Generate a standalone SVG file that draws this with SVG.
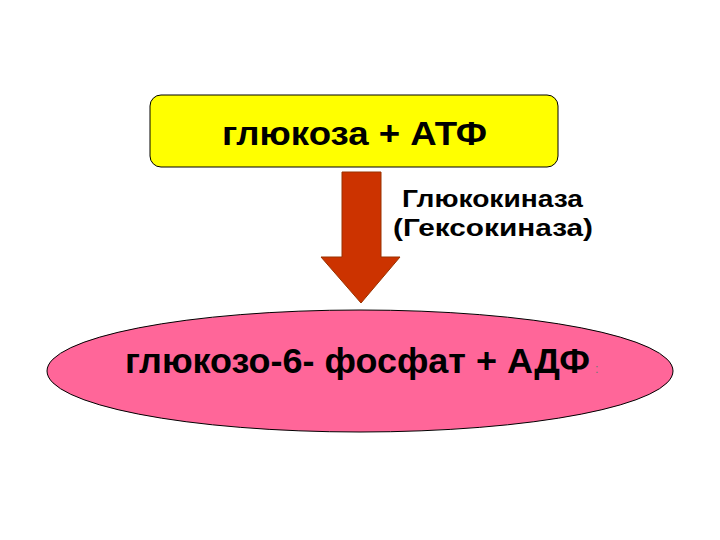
<svg xmlns="http://www.w3.org/2000/svg" width="720" height="540" viewBox="0 0 720 540">
<style>
.t{font-family:"Liberation Sans",Arial,sans-serif;font-weight:bold;fill:#000}
</style>
<rect width="720" height="540" fill="#fff"/>
<g id="glucose">
<rect x="150" y="95" width="408" height="72" rx="11" fill="#FFFF00" stroke="#000" stroke-width="1"/>
<text class="t" x="222" y="145" font-size="32.5" textLength="265" lengthAdjust="spacingAndGlyphs">глюкоза + АТФ</text>
</g>
<g id="connectors">
<path d="M342,172 H381 V257 H400 L361,303 L321,257 H342 Z" fill="#CC3300" stroke="#993300" stroke-width="1"/>
</g>
<g id="enzyme">
<text class="t" x="402" y="207" font-size="24" textLength="181" lengthAdjust="spacingAndGlyphs">Глюкокиназа</text>
<text class="t" x="393" y="236" font-size="24" textLength="200" lengthAdjust="spacingAndGlyphs">(Гексокиназа)</text>
</g>
<g id="product">
<ellipse cx="360" cy="371" rx="313" ry="61" fill="#FF6699" stroke="#000" stroke-width="1"/>
<text class="t" x="125" y="373" font-size="35" textLength="465" lengthAdjust="spacingAndGlyphs">глюкозо-6- фосфат + АДФ</text>
<text x="595" y="373" font-size="13" font-family="Liberation Sans,Arial,sans-serif" fill="#777">:</text>
</g>
</svg>
